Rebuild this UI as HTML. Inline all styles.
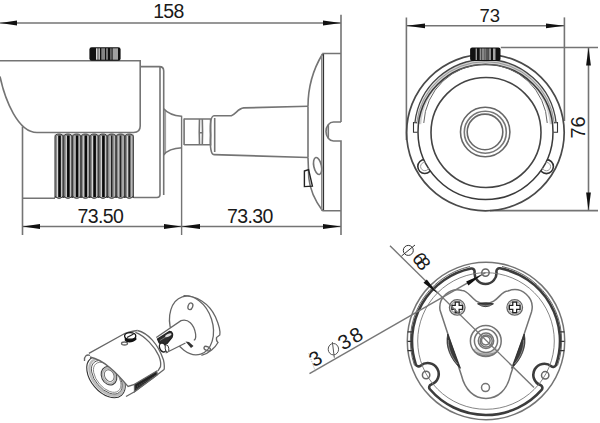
<!DOCTYPE html>
<html><head><meta charset="utf-8">
<style>
html,body{margin:0;padding:0;background:#fff;width:600px;height:423px;overflow:hidden}
svg{display:block}
text{font-family:"Liberation Sans",sans-serif;fill:#1a1a1a}
</style></head>
<body>
<svg width="600" height="423" viewBox="0 0 600 423">
<defs><clipPath id="outring"><path d="M0,0 H600 V423 H0 Z M485.5,64.5 A67.5,67.5 0 1 0 485.5,199.5 A67.5,67.5 0 1 0 485.5,64.5 Z" clip-rule="evenodd"/></clipPath></defs>
<rect width="600" height="423" fill="#fff"/>

<!-- ============ SIDE VIEW ============ -->
<g fill="none" stroke="#747474" stroke-width="1.6">
  <!-- dim 158 -->
  <path d="M0,23 H341"/>
  <path d="M341,14.7 V122"/>
  <!-- sun shield / body -->
  <path d="M0,60.8 H140.2 V126 Q140.2,132.5 133.6,132.5 H37 C18,132.5 5,100 0,76.5"/>
  <path d="M22.5,126.5 V235"/>
  <path d="M22.5,198.3 H55"/>
  <path d="M140.2,66.6 H159.5 Q163.7,66.6 163.7,71 V195"/>
  <path d="M160,66.6 V194.5 Q160,197.5 157,197.5 H133.6"/>
  <!-- flare -->
  <path d="M164.6,110 V153.5 M165.6,111 V152.5" stroke="#999" stroke-width="1"/>
  <path d="M163.7,108.7 C167,112.5 173,115.5 181.5,116.2"/>
  <path d="M163.7,155 C167,150.5 173,148.3 182,147.8"/>
  <!-- neck -->
  <path d="M181.6,115.7 V235" stroke-width="1.4"/>
  <path d="M184.1,118.5 V145"/>
  <path d="M184.1,119 H210.6 V144.7 H184.1"/>
  <path d="M199.5,119 Q199,132 199.5,144.7 M202.3,119 Q202.8,132 202.3,144.7 M199.3,132.7 H202.5"/>
  <!-- arm -->
  <path d="M214,115.7 Q209.5,116 210.6,135 Q209.5,154.6 214,154.6"/>
  <path d="M214.7,118 V152"/>
  <path d="M214,115.7 H231.3 C236,114 238,108.5 243.7,107.9 L308,106.3"/>
  <path d="M214,154.6 L308,157.5"/>
  <!-- mount -->
  <path d="M308,106.3 C308,85 314,68 322.5,54"/>
  <path d="M308,106.3 V157.5"/>
  <path d="M308,157.5 L308.8,178 C310,190 316,202 322.5,210.8"/>
  <path d="M321.6,54 V210.8" stroke-width="1.2" stroke="#888"/>
  <path d="M323.4,53.5 V210.8" stroke-width="1.4" stroke="#333"/>
  <path d="M322.3,53.5 H341 M322.3,210.8 H341"/>
  <path d="M341,122 H333.5 A7.5,9.5 0 0 0 333.5,141 H341 V211"/>
  <path d="M328.3,125 V138"/>
  <ellipse cx="317.6" cy="166" rx="3.8" ry="8.6" transform="rotate(-12 317.6 166)"/>
  <path d="M304.4,171 L308.6,169.6 L312.4,186.1 L304.4,186.6 Z" stroke="#222" stroke-width="1.4"/>
  <!-- dims 73.50 / 73.30 -->
  <path d="M22.5,226.5 H341"/>
  <path d="M341,211 V235"/>
</g>
<!-- arrows side view -->
<g fill="#111" stroke="none">
  <path d="M0,23 L17,20.6 L17,25.4 Z"/>
  <path d="M341,23 L323,20.6 L323,25.4 Z"/>
  <path d="M22.5,226.5 L40,224.1 L40,228.9 Z"/>
  <path d="M181.6,226.5 L164,224.1 L164,228.9 Z"/>
  <path d="M181.6,226.5 L200,224.1 L200,228.9 Z"/>
  <path d="M341,226.5 L323,224.1 L323,228.9 Z"/>
</g>
<!-- knob side -->
<g>
  <rect x="89.4" y="47.3" width="31.2" height="13.4" rx="2.2" fill="#111"/>
  <rect x="96" y="48.3" width="1" height="11.4" fill="#d8d8d8"/>
  <rect x="97" y="48.3" width="2" height="11.4" fill="#8a8a8a"/>
  <rect x="99.2" y="48.3" width="0.8" height="11.4" fill="#e0e0e0"/>
  <rect x="101.3" y="48.3" width="3.7" height="11.4" fill="#858585"/>
  <rect x="106.5" y="48.3" width="1" height="11.4" fill="#e0e0e0"/>
  <rect x="110.5" y="48.3" width="0.9" height="11.4" fill="#bbb"/>
  <rect x="112.6" y="48.3" width="5.4" height="11.4" fill="#a0a0a0"/>
</g>
<!-- fins -->
<g id="fins">
<rect x="54.7" y="134.5" width="78.9" height="63" fill="#9a9a9a"/>
<path d="M55.00,198 V137 Q55.00,134 59.10,134 Q63.20,134 63.20,137 V198" fill="#8e8e8e" stroke="#333" stroke-width="0.9"/>
<rect x="57.10" y="136" width="0.8" height="61" fill="#e8e8e8"/>
<rect x="58.30" y="135.5" width="2.5" height="61.5" fill="#0a0a0a"/>
<rect x="61.20" y="136" width="0.8" height="61" fill="#d0d0d0"/>
<path d="M55.00,196 Q59.10,201 63.20,196" fill="none" stroke="#333" stroke-width="0.9"/>
<path d="M63.77,198 V137 Q63.77,134 67.87,134 Q71.97,134 71.97,137 V198" fill="#8e8e8e" stroke="#333" stroke-width="0.9"/>
<rect x="65.87" y="136" width="0.8" height="61" fill="#e8e8e8"/>
<rect x="67.07" y="135.5" width="2.5" height="61.5" fill="#0a0a0a"/>
<rect x="69.97" y="136" width="0.8" height="61" fill="#d0d0d0"/>
<path d="M63.77,196 Q67.87,201 71.97,196" fill="none" stroke="#333" stroke-width="0.9"/>
<path d="M72.54,198 V137 Q72.54,134 76.64,134 Q80.74,134 80.74,137 V198" fill="#8e8e8e" stroke="#333" stroke-width="0.9"/>
<rect x="74.64" y="136" width="0.8" height="61" fill="#e8e8e8"/>
<rect x="75.84" y="135.5" width="2.5" height="61.5" fill="#0a0a0a"/>
<rect x="78.74" y="136" width="0.8" height="61" fill="#d0d0d0"/>
<path d="M72.54,196 Q76.64,201 80.74,196" fill="none" stroke="#333" stroke-width="0.9"/>
<path d="M81.31,198 V137 Q81.31,134 85.41,134 Q89.51,134 89.51,137 V198" fill="#8e8e8e" stroke="#333" stroke-width="0.9"/>
<rect x="83.41" y="136" width="0.8" height="61" fill="#e8e8e8"/>
<rect x="84.61" y="135.5" width="2.5" height="61.5" fill="#0a0a0a"/>
<rect x="87.51" y="136" width="0.8" height="61" fill="#d0d0d0"/>
<path d="M81.31,196 Q85.41,201 89.51,196" fill="none" stroke="#333" stroke-width="0.9"/>
<path d="M90.08,198 V137 Q90.08,134 94.18,134 Q98.28,134 98.28,137 V198" fill="#8e8e8e" stroke="#333" stroke-width="0.9"/>
<rect x="92.18" y="136" width="0.8" height="61" fill="#e8e8e8"/>
<rect x="93.38" y="135.5" width="2.5" height="61.5" fill="#0a0a0a"/>
<rect x="96.28" y="136" width="0.8" height="61" fill="#d0d0d0"/>
<path d="M90.08,196 Q94.18,201 98.28,196" fill="none" stroke="#333" stroke-width="0.9"/>
<path d="M98.85,198 V137 Q98.85,134 102.95,134 Q107.05,134 107.05,137 V198" fill="#8e8e8e" stroke="#333" stroke-width="0.9"/>
<rect x="100.95" y="136" width="0.8" height="61" fill="#e8e8e8"/>
<rect x="102.15" y="135.5" width="2.5" height="61.5" fill="#0a0a0a"/>
<rect x="105.05" y="136" width="0.8" height="61" fill="#d0d0d0"/>
<path d="M98.85,196 Q102.95,201 107.05,196" fill="none" stroke="#333" stroke-width="0.9"/>
<path d="M107.62,198 V137 Q107.62,134 111.72,134 Q115.82,134 115.82,137 V198" fill="#8e8e8e" stroke="#333" stroke-width="0.9"/>
<rect x="109.72" y="136" width="0.8" height="61" fill="#e8e8e8"/>
<rect x="110.92" y="135.5" width="1.6" height="61.5" fill="#222"/>
<rect x="112.52" y="135.5" width="1.0" height="61.5" fill="#777"/>
<rect x="113.82" y="136" width="0.8" height="61" fill="#d0d0d0"/>
<path d="M107.62,196 Q111.72,201 115.82,196" fill="none" stroke="#333" stroke-width="0.9"/>
<path d="M116.39,198 V137 Q116.39,134 120.49,134 Q124.59,134 124.59,137 V198" fill="#8e8e8e" stroke="#333" stroke-width="0.9"/>
<rect x="118.49" y="136" width="0.8" height="61" fill="#e8e8e8"/>
<rect x="119.69" y="135.5" width="1.6" height="61.5" fill="#222"/>
<rect x="121.29" y="135.5" width="1.0" height="61.5" fill="#777"/>
<rect x="122.59" y="136" width="0.8" height="61" fill="#d0d0d0"/>
<path d="M116.39,196 Q120.49,201 124.59,196" fill="none" stroke="#333" stroke-width="0.9"/>
<path d="M125.16,198 V137 Q125.16,134 129.26,134 Q133.36,134 133.36,137 V198" fill="#8e8e8e" stroke="#333" stroke-width="0.9"/>
<rect x="127.26" y="136" width="0.8" height="61" fill="#e8e8e8"/>
<rect x="128.46" y="135.5" width="1.6" height="61.5" fill="#222"/>
<rect x="130.06" y="135.5" width="1.0" height="61.5" fill="#777"/>
<rect x="131.36" y="136" width="0.8" height="61" fill="#d0d0d0"/>
<path d="M125.16,196 Q129.26,201 133.36,196" fill="none" stroke="#333" stroke-width="0.9"/>
</g>
<text x="153.3" y="18" font-size="19.5" letter-spacing="-0.8">158</text>
<text x="77.5" y="222.5" font-size="19.5" letter-spacing="-0.6">73.50</text>
<text x="227" y="222.5" font-size="19.5" letter-spacing="-0.6">73.30</text>

<!-- ============ FRONT VIEW ============ -->
<g fill="none" stroke="#747474" stroke-width="1.6">
  <path d="M406.4,17.5 V140"/>
  <path d="M564.4,17.4 V121"/>
  <path d="M406.4,25.8 H564.4"/>
  <path d="M500.8,47.5 H598"/>
  <path d="M490,210.6 H598"/>
  <path d="M588.5,47.5 V210.6"/>
  <ellipse cx="485.4" cy="132.6" rx="78.8" ry="78.2" stroke="#4a4a4a" stroke-width="1.7"/>
  <path d="M418.73,124 A67,67 0 0 1 552.27,124" fill="none" stroke="#d0d0d0" stroke-width="5"/>
  <path d="M414.95,122.5 A71,71 0 0 1 556.05,122.5" stroke="#444" stroke-width="1.3"/>
  <path d="M416.66,123 A69.3,69.3 0 0 1 554.34,123" stroke="#888" stroke-width="0.8"/>
  <circle cx="485.5" cy="132" r="67.5" stroke="#3a3a3a" stroke-width="1.5"/>
  <path d="M423.77,123 A61.8,61.8 0 0 1 547.23,123" stroke="#666" stroke-width="1"/>
  <circle cx="486" cy="132.5" r="55" stroke="#444"/>
  <circle cx="485.2" cy="132" r="24.7" stroke="#666"/>
  <circle cx="485.3" cy="132.2" r="21" stroke="#777"/>
  <circle cx="485" cy="131.9" r="17.8" stroke="#666"/>
  <path d="M413.5,122 V132.3 H417.5 M413.5,122.8 H417" stroke="#333" stroke-width="1.1"/>
  <path d="M557.5,122 V132.3 H553.5 M557.5,122.8 H554" stroke="#333" stroke-width="1.1"/>
  <g clip-path="url(#outring)">
    <circle cx="424.8" cy="166.5" r="7" stroke="#333" stroke-width="1.6"/>
    <circle cx="424.8" cy="166.5" r="4.2" stroke="#999" stroke-width="1"/>
    <circle cx="546.4" cy="166.6" r="7" stroke="#333" stroke-width="1.6"/>
    <circle cx="546.4" cy="166.6" r="4.2" stroke="#999" stroke-width="1"/>
  </g>
</g>
<g fill="#111">
  <path d="M406.4,25.8 L425,23.4 L425,28.2 Z"/>
  <path d="M564.4,25.8 L546,23.4 L546,28.2 Z"/>
  <path d="M588.5,47.5 L586.1,65.5 L590.9,65.5 Z"/>
  <path d="M588.5,210.6 L586.1,192.6 L590.9,192.6 Z"/>
</g>
<g>
  <rect x="470.1" y="47.5" width="30.4" height="13.5" rx="2" fill="#111"/>
  <rect x="475.6" y="48.5" width="1.4" height="11.5" fill="#9a9a9a"/>
  <rect x="479.8" y="48.5" width="0.8" height="11.5" fill="#e6e6e6"/>
  <rect x="481.5" y="48.5" width="3" height="11.5" fill="#888"/>
  <rect x="484.8" y="48.5" width="0.7" height="11.5" fill="#ddd"/>
  <rect x="486.6" y="48.5" width="0.8" height="11.5" fill="#bbb"/>
  <rect x="488.5" y="48.5" width="2.5" height="11.5" fill="#8a8a8a"/>
  <rect x="493" y="48.5" width="2.5" height="11.5" fill="#a5a5a5"/>
</g>
<text x="479.5" y="22.3" font-size="18.5">73</text>
<text transform="translate(584.6,138.6) rotate(-90)" font-size="20">76</text>

<!-- ============ MOUNT BOTTOM VIEW ============ -->
<g fill="none" stroke="#747474" stroke-width="1.5">
  <circle cx="486" cy="341" r="78.7"/>
  <path d="M499.99,268.33 A74.0,74.0 0 0 1 556.04,364.89 A3.0,3.0 0 0 1 551.30,366.25 A11.0,11.0 0 1 0 540.42,385.04 A3.0,3.0 0 0 1 541.61,389.82 A74.0,74.0 0 0 1 429.91,389.27 A3.0,3.0 0 0 1 431.23,384.47 A11.0,11.0 0 1 0 420.57,365.68 A3.0,3.0 0 0 1 415.78,364.34 A74.0,74.0 0 0 1 471.00,268.54 A3.0,3.0 0 0 1 474.59,271.80 A11.0,11.0 0 1 0 496.44,271.65 A3.0,3.0 0 0 1 499.99,268.33 Z" stroke="#3c3c3c" stroke-width="2.6"/>
  <circle cx="486" cy="341" r="68.3" stroke="#777" stroke-width="0.9"/>
  <path d="M470,266.5 A76,76 0 0 0 414.5,365.5" stroke="#666" stroke-width="1"/>
  <path d="M502,266.5 A76,76 0 0 1 557.5,365.5" stroke="#666" stroke-width="1"/>
  <circle cx="485.5" cy="272.6" r="3.7" stroke="#666"/>
  <circle cx="426.1" cy="375" r="3.7" stroke="#666"/>
  <circle cx="545.2" cy="375.3" r="3.7" stroke="#666"/>
  <!-- tabs -->
  <path d="M407.6,331.8 H412.3 M407.6,341.3 H412.3 M407.6,350.7 H412.3" stroke="#333" stroke-width="1.3"/>
  <path d="M559.7,331.8 H564.4 M559.7,341.3 H564.4 M559.7,350.7 H564.4" stroke="#333" stroke-width="1.3"/>
  <!-- plate -->
  <path d="M440,310 A17.6,17.6 0 0 1 462,290.5 C470,290.5 472,303.5 485,303.5 C498,303.5 500,291 508,291 A17.6,17.6 0 0 1 531.5,312 L510.4,375.3 C507,390 498,398.4 486,398.4 C474,398.4 465,390 461.4,375.3 Z" fill="#fff"/>
  <circle cx="485.5" cy="387.6" r="4"/>
  <!-- crescents -->
  <path d="M447.8,334 C444.6,346 451,360 460.5,368.3 L447.8,334 Z" fill="#3a3a3a" stroke="#222" stroke-width="0.7"/><path d="M448.3,340 C448,349 452,358 457.5,364" stroke="#bbb" stroke-width="0.6"/>
  <path d="M524.2,334 C527.4,346 521,360 511.5,368.3 L524.2,334 Z" fill="#3a3a3a" stroke="#222" stroke-width="0.7"/><path d="M523.7,340 C524,349 520,358 514.5,364" stroke="#bbb" stroke-width="0.6"/>
  <path d="M477.5,303.8 Q485.5,301.8 493.5,303.8 Q485.5,309.5 477.5,303.8 Z" fill="#444" stroke="#222" stroke-width="0.8"/><path d="M480,305 Q485.5,306.5 491,305" stroke="#aaa" stroke-width="0.6"/>
  <!-- screws -->
  <circle cx="457.2" cy="307.4" r="7.8" stroke="#666" stroke-width="1.3" fill="#fff"/>
  <circle cx="457.2" cy="307.4" r="6.1" stroke="#aaa" stroke-width="1.4"/>
  <path d="M454.60,301.50 H459.80 V304.80 H463.10 V310.00 H459.80 V313.30 H454.60 V310.00 H451.30 V304.80 H454.60 Z" fill="#222" stroke="none"/>
  <path d="M455.90,302.70 H458.50 V306.10 H461.90 V308.70 H458.50 V312.10 H455.90 V308.70 H452.50 V306.10 H455.90 Z" fill="#fff" stroke="none"/>
  <circle cx="514.7" cy="307.4" r="7.8" stroke="#666" stroke-width="1.3" fill="#fff"/>
  <circle cx="514.7" cy="307.4" r="6.1" stroke="#aaa" stroke-width="1.4"/>
  <path d="M512.10,301.50 H517.30 V304.80 H520.60 V310.00 H517.30 V313.30 H512.10 V310.00 H508.80 V304.80 H512.10 Z" fill="#222" stroke="none"/>
  <path d="M513.40,302.70 H516.00 V306.10 H519.40 V308.70 H516.00 V312.10 H513.40 V308.70 H510.00 V306.10 H513.40 Z" fill="#fff" stroke="none"/>
  <!-- hub -->
  <path d="M498.35,349.62 A15.2,15.2 0 0 1 473.45,349.62 L476.23,347.67 A11.8,11.8 0 0 0 495.57,347.67 Z" fill="#d0d0d0" stroke="none"/>
  <path d="M476,352.5 Q486,356 496,352.5 M478,354.5 Q486,357 494,354.5" stroke="#777" stroke-width="0.8"/>
  <circle cx="485.8" cy="341" r="15.4"/>
  <circle cx="486" cy="340.8" r="11.6"/>
  <circle cx="486" cy="340.8" r="7.7"/>
  <circle cx="486.2" cy="341" r="6"/>
  <circle cx="485.8" cy="340.6" r="4.3"/>
  <!-- leaders -->
  <path d="M390,245.8 L534,387.5" stroke="#777" stroke-width="1.4"/>
  <path d="M309.5,373.7 L485.5,272.6" stroke="#777" stroke-width="1.4"/>
</g>
<g fill="#111">
  <path d="M437.6,293.5 L423.5,282.8 L426.8,279.5 Z"/>
  <path d="M482,274.6 L468.4,285.6 L466.2,281.4 Z"/>
</g>
<!-- phi68 -->
<g fill="none" stroke="#333" stroke-width="1">
  <circle cx="408.3" cy="250.4" r="5"/>
  <path d="M401.5,256 L415,245"/>
</g>
<text transform="translate(411.2,258.6) rotate(52)" font-size="19" letter-spacing="-4.2">68</text>
<!-- 3-phi38 -->
<g transform="translate(318.9,364.7) rotate(-30)" font-size="20.5" text-anchor="middle">
  <text x="0" y="0">3</text>
  <text x="33.5" y="0">3</text>
  <text x="47" y="0">8</text>
</g>
<ellipse cx="333.4" cy="349.2" rx="5.2" ry="5.7" fill="none" stroke="#555" stroke-width="1"/>
<path d="M332.4,342.1 L334.3,357.7" stroke="#555" stroke-width="1"/>
<path d="M308.8,353.4 L315.4,371.4" stroke="#999" stroke-width="0.8" stroke-dasharray="1 1"/>

<!-- ============ SMALL 3D CAMERA ============ -->
<g fill="none" stroke="#666" stroke-width="1.3">
  <!-- mount disk rim & face -->
  <path d="M183.5,295.6 C196,295.5 209,303 215.5,317 C219,325 220.5,331 219.8,335 L216.5,337.5 Q216,341 218,342.5 C215.5,347 209,354 201.4,355.4" fill="#fff"/>
  <ellipse cx="191.5" cy="325.5" rx="21" ry="30" transform="rotate(-18 191.5 325.5)" fill="#fff"/>
  <ellipse cx="190.4" cy="306.3" rx="2.3" ry="3.4" transform="rotate(20 190.4 306.3)"/>
  <ellipse cx="207.2" cy="348.6" rx="3.4" ry="1.9" transform="rotate(25 207.2 348.6)"/>
  <!-- arm -->
  <path d="M156.3,337.5 L181,320.7 C188,318.5 194,324 195.6,334 C196,338 195,340 193.8,340.2 L185.5,343 L165.6,353 Z" fill="#fff" stroke="none"/>
  <path d="M156.3,337.5 L181,320.7 C188,318.5 194,324 195.6,334 C196,338 195,340 193.8,340.2 M185.5,343 L165.6,353"/>
  <path d="M185.5,341.5 L191,348 L193.5,346 L189,342 Z" fill="#333" stroke="none"/>
  <!-- neck connector -->
  <path d="M157.5,339 L169.5,331.5 C172.5,331.5 173.5,334.5 172,337.5 L167,343.5 C164,345.5 161,345 159,342.5 Z" fill="#2e2e2e" stroke="#222"/>
  <path d="M160,340.5 L168,335.5" stroke="#888" stroke-width="0.8"/>
  <ellipse cx="168.3" cy="335.3" rx="3.4" ry="1.4" transform="rotate(-25 168.3 335.3)" fill="#ddd" stroke="none"/>
  <ellipse cx="162.8" cy="347.5" rx="3.2" ry="4.6" transform="rotate(-20 162.8 347.5)" fill="#fff" stroke="#222" stroke-width="1.4"/>
  <ellipse cx="167" cy="348.5" rx="1.8" ry="3.5" transform="rotate(-10 167 348.5)" fill="#fff" stroke="#333" stroke-width="0.9"/>
  <!-- front face (drawn first, shield overlaps) -->
  <ellipse cx="106" cy="377" rx="15" ry="24" transform="rotate(-40 106 377)" fill="#fff" stroke="#333" stroke-width="1.1"/>
  <ellipse cx="106.5" cy="377.2" rx="13" ry="21.6" transform="rotate(-40 106.5 377.2)" stroke="#bbb" stroke-width="2.4"/>
  <ellipse cx="106.8" cy="377.3" rx="11.5" ry="19.6" transform="rotate(-40 106.8 377.3)" stroke="#555" stroke-width="0.9"/>
  <ellipse cx="107.2" cy="377.3" rx="10.2" ry="17.6" transform="rotate(-40 107.2 377.3)" stroke="#777" stroke-width="0.8"/>
  <ellipse cx="109" cy="375.8" rx="7.4" ry="9.4" transform="rotate(-25 109 375.8)" stroke="#444"/>
  <ellipse cx="109" cy="375.8" rx="6.1" ry="7.9" transform="rotate(-25 109 375.8)" stroke="#b5b5b5" stroke-width="1.8"/>
  <ellipse cx="109.2" cy="375.6" rx="4.6" ry="6" transform="rotate(-25 109.2 375.6)" stroke="#666" stroke-width="0.9"/>
  <!-- camera body / shield -->
  <path d="M88.9,353.4 L122,335 Q128,331.5 137.4,330.5 C148,333 158,344 163.4,359.7 C164.5,364 164.5,370 162.7,374 L157.3,374.7 L134.5,391.7 L126,396.5 L128,386.4 C116,372 104,360 90,357 Z" fill="#fff" stroke="none"/>
  <path d="M88.9,353.4 L122,335 Q128,331.5 137.4,330.5"/>
  <path d="M137.4,330.5 C148,333 158,344 163.4,359.7 C164.5,364 164.5,369 164,369.5 L157.3,374.7"/>
  <path d="M135.4,332.4 C145,336 155,347 158.8,355.8 C160.5,360 161,364 160.5,366.7 L157.9,371"/>
  <path d="M157.3,374.7 L134.5,391.7 L126,396.5"/>
  <path d="M90,357 C104,360 116,372 128,386.4 L134.5,384.3"/>
  <path d="M84.5,361 C84,356 87,354 90,355.5"/>
  <path d="M134.5,384.3 L156.8,371 L157.3,374.7 L134.5,391.7 Z" fill="#222"/>
  <path d="M137,386.5 L155,376 M136.5,388.5 L154,378" stroke="#777" stroke-width="0.6" stroke-dasharray="1.2 1"/>
  <!-- knob -->
  <ellipse cx="124.5" cy="343.5" rx="3" ry="1.5" stroke="#666"/>
  <path d="M124.6,336 L124.8,340.5 C127,343.5 133,343 136.5,339.5 L135.9,335.5 Z" fill="#111" stroke="none"/>
  <ellipse cx="130.2" cy="335.9" rx="5.6" ry="3.3" fill="#fff" stroke="#111" stroke-width="1.3"/>
  <path d="M127,337.5 L133.5,334" stroke="#222" stroke-width="1.2"/>
</g>

</svg>
</body></html>
